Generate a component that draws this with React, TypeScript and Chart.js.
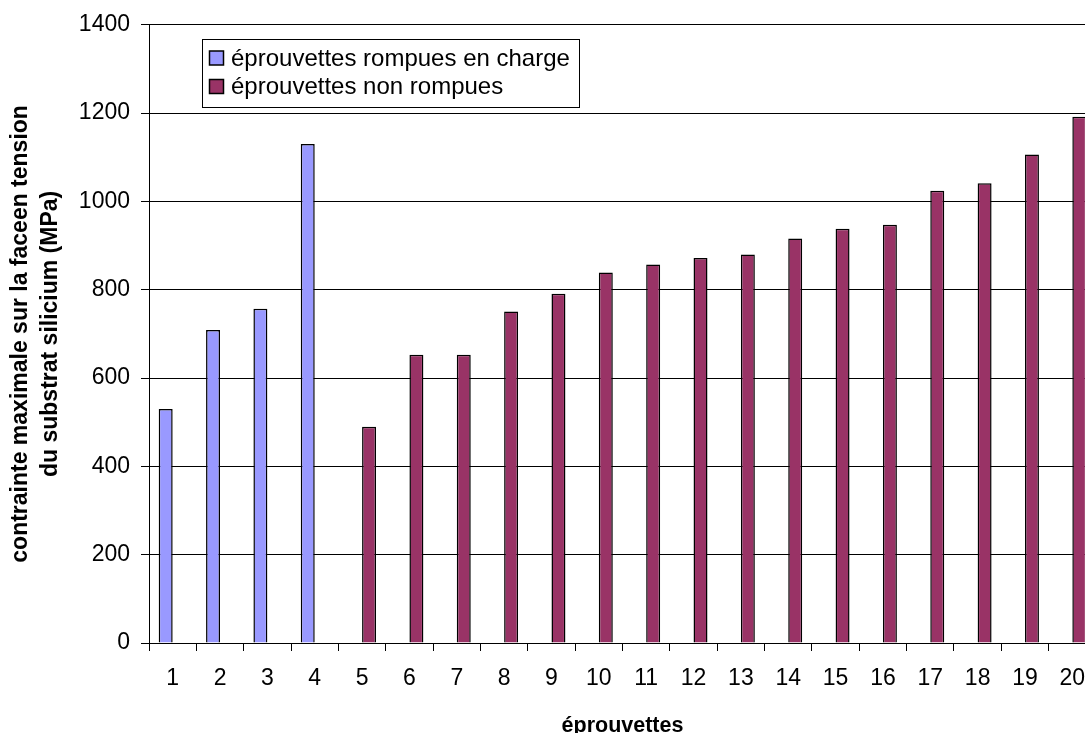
import React, { useEffect, useRef } from "react";
import { Chart, registerables } from "chart.js";

Chart.register(...registerables);

// ---- data ----
const categories = ["1", "2", "3", "4", "5", "6", "7", "8", "9", "10", "11", "12", "13", "14", "15", "16", "17", "18", "19", "20"];
const seriesRompues = [530, 709, 757, 1130, null, null, null, null, null, null, null, null, null, null, null, null, null, null, null, null];
const seriesNonRompues = [null, null, null, null, 490, 653, 653, 751, 791, 839, 857, 872, 880, 916, 938, 947, 1024, 1041, 1106, 1192];
const yTickValues = [0, 200, 400, 600, 800, 1000, 1200, 1400];
const seriesLabels = ["éprouvettes rompues en charge", "éprouvettes non rompues"];
const seriesColors = ["#9999FF", "#993366"];
const xTitle = "éprouvettes";
const yTitle = ["contrainte maximale sur la faceen tension", "du substrat silicium (MPa)"];

const FONT = "'Liberation Sans', Arial, Helvetica, sans-serif";

const legendBoxPlugin = {
  id: "legendBox",
  afterDraw(chart: any, _args: any, opts: any) {
    const ctx = chart.ctx as CanvasRenderingContext2D;
    ctx.save();
    ctx.fillStyle = "#ffffff";
    ctx.fillRect(opts.x, opts.y, opts.w, opts.h);
    ctx.strokeStyle = "#000000";
    ctx.lineWidth = 1;
    ctx.strokeRect(opts.x + 0.5, opts.y + 0.5, opts.w, opts.h);
    chart.data.datasets.forEach((ds: any, i: number) => {
      const cy = opts.firstY + i * opts.spacing;
      ctx.fillStyle = ds.backgroundColor;
      ctx.fillRect(opts.markerX, cy - opts.marker / 2, opts.marker, opts.marker);
      ctx.lineWidth = 1.5;
      ctx.strokeStyle = "#000000";
      ctx.strokeRect(opts.markerX, cy - opts.marker / 2, opts.marker, opts.marker);
      ctx.fillStyle = "#000000";
      ctx.font = `${opts.fontSize}px ${FONT}`;
      ctx.textBaseline = "middle";
      ctx.textAlign = "left";
      ctx.fillText(ds.label, opts.textX, cy + 1);
    });
    ctx.restore();
  },
};

export default function App() {
  const canvasRef = useRef<HTMLCanvasElement | null>(null);

  useEffect(() => {
    const canvas = canvasRef.current;
    if (!canvas) return;
    const chart = new Chart(canvas, {
      type: "bar",
      data: {
        labels: categories,
        datasets: [
          {
            label: seriesLabels[0],
            data: seriesRompues,
            backgroundColor: seriesColors[0],
            borderColor: "#000000",
            borderWidth: 1.5,
          },
          {
            label: seriesLabels[1],
            data: seriesNonRompues,
            backgroundColor: seriesColors[1],
            borderColor: "#000000",
            borderWidth: 1.5,
          },
        ],
      },
      options: {
        responsive: false,
        animation: false,
        devicePixelRatio: 1,
        layout: { padding: { left: 0, top: 22, right: 14, bottom: 0 } },
        datasets: {
          bar: { categoryPercentage: 0.59, barPercentage: 1 },
        },
        plugins: {
          legend: { display: false },
          tooltip: { enabled: false },
          legendBox: {
            x: 202,
            y: 39,
            w: 377,
            h: 68,
            markerX: 209.5,
            marker: 14,
            firstY: 58,
            spacing: 28.5,
            textX: 231,
            fontSize: 24,
          },
        } as any,
        scales: {
          x: {
            offset: true,
            afterFit: (scale: any) => {
              scale.height = 90;
            },
            grid: {
              display: true,
              drawOnChartArea: false,
              drawTicks: true,
              tickLength: 8,
              color: "#000000",
              offset: true,
            },
            border: { display: true, color: "#000000", width: 1 },
            ticks: {
              color: "#000000",
              font: { family: FONT, size: 23 },
              padding: 14,
              maxRotation: 0,
              autoSkip: false,
            },
            title: {
              display: true,
              text: xTitle,
              color: "#000000",
              font: { family: FONT, size: 21.5, weight: "bold", lineHeight: 0.6 },
              padding: { top: 0, bottom: 0 },
            },
          },
          y: {
            min: 0,
            max: 1400,
            afterFit: (scale: any) => {
              scale.width = 149;
            },
            afterBuildTicks: (scale: any) => {
              scale.ticks = yTickValues.map((v) => ({ value: v }));
            },
            grid: {
              color: "#000000",
              lineWidth: 1,
              drawTicks: true,
              tickLength: 8,
            },
            border: { display: true, color: "#000000", width: 1 },
            ticks: {
              color: "#000000",
              font: { family: FONT, size: 23 },
              padding: 11,
              callback: (value: any) => String(value),
            },
            title: {
              display: true,
              text: yTitle,
              color: "#000000",
              font: { family: FONT, size: 23, weight: "bold", lineHeight: 1.3 },
              padding: { top: 6, bottom: 0 },
            },
          },
        },
      },
      plugins: [legendBoxPlugin],
    });
    return () => chart.destroy();
  }, []);

  return (
    <div
      style={{
        position: "fixed",
        left: 0,
        top: 0,
        width: 1085,
        height: 733,
        overflow: "hidden",
        background: "#ffffff",
      }}
    >
      <canvas ref={canvasRef} width={1110} height={733} style={{ display: "block", width: 1110, height: 733 }} />
    </div>
  );
}
